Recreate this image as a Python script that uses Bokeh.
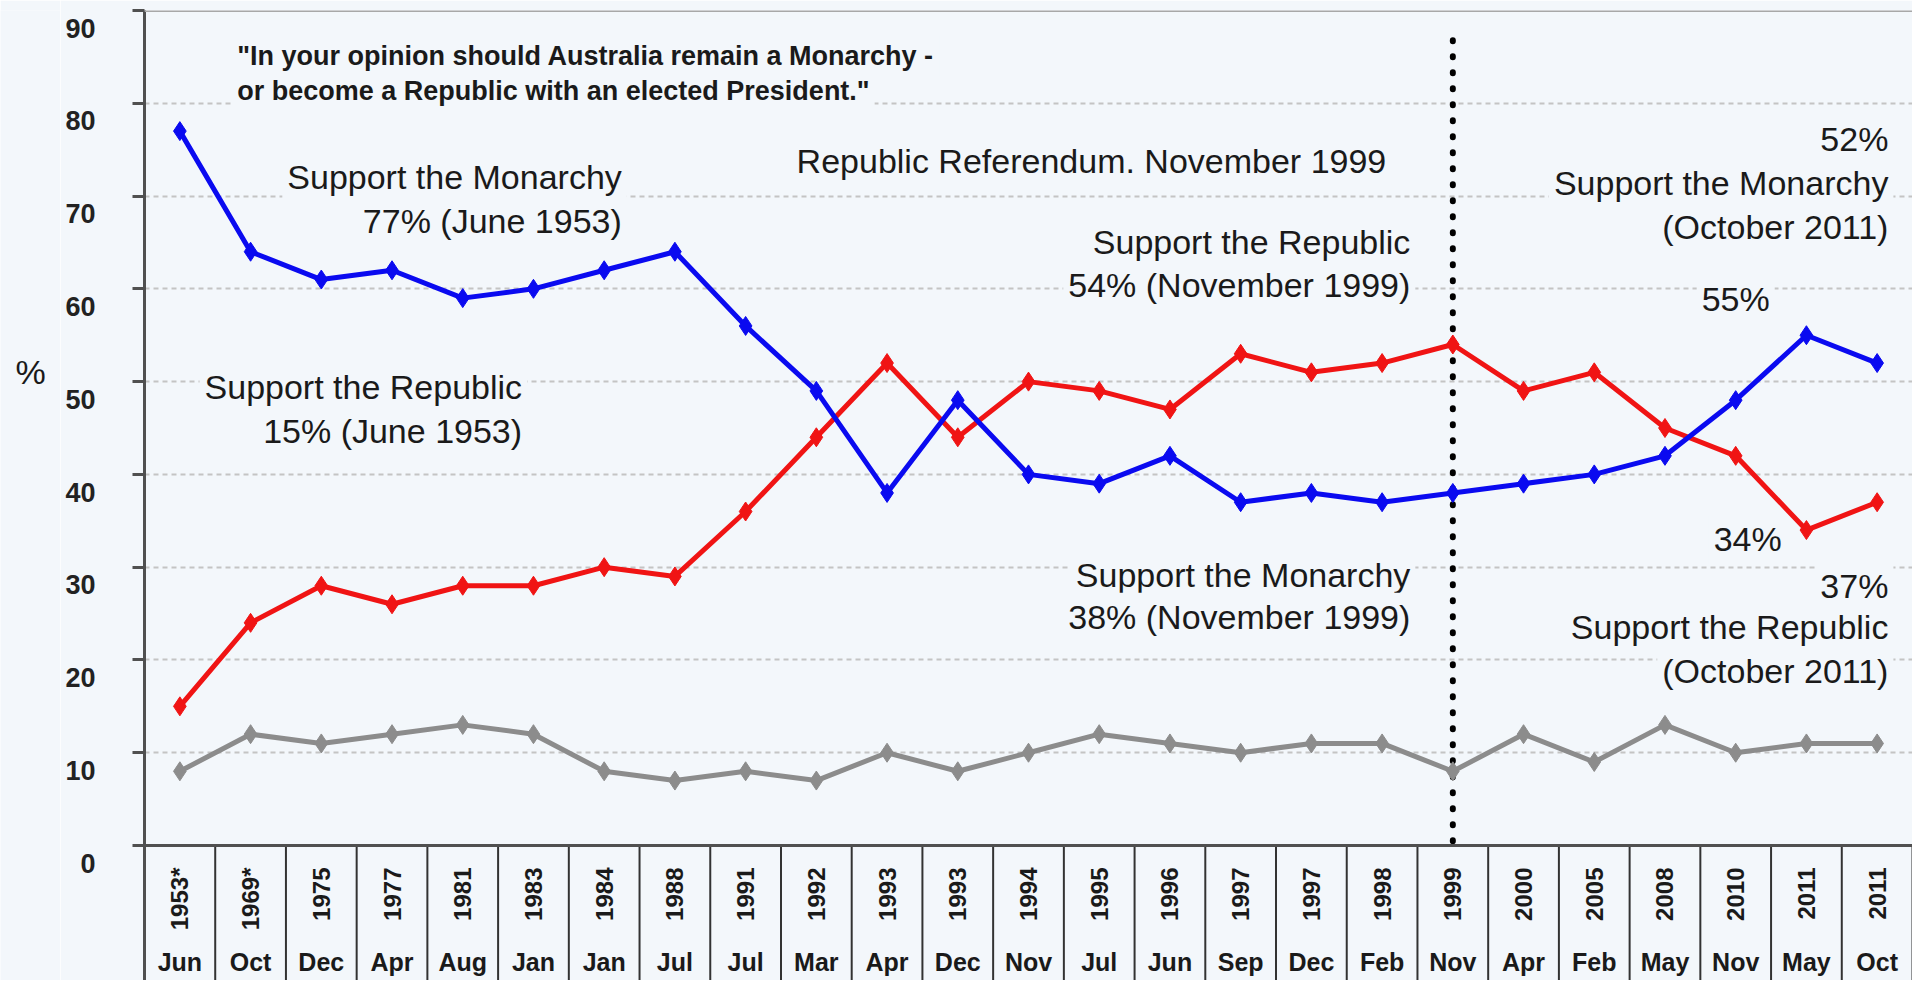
from bokeh.plotting import figure
from bokeh.layouts import row
from bokeh.models import Range1d, FixedTicker, Span, Label, ColumnDataSource, LinearAxis
from bokeh.core.properties import value
from bokeh.embed import file_html
from bokeh.resources import INLINE

# ---------------- data ----------------
months = ["Jun", "Oct", "Dec", "Apr", "Aug", "Jan", "Jan", "Jul", "Jul", "Mar", "Apr", "Dec", "Nov",
          "Jul", "Jun", "Sep", "Dec", "Feb", "Nov", "Apr", "Feb", "May", "Nov", "May", "Oct"]
years = ["1953*", "1969*", "1975", "1977", "1981", "1983", "1984", "1988", "1991", "1992", "1993", "1993",
         "1994", "1995", "1996", "1997", "1997", "1998", "1999", "2000", "2005", "2008", "2010", "2011", "2011"]
monarchy = [77, 64, 61, 62, 59, 60, 62, 64, 56, 49, 38, 48, 40, 39, 42, 37, 38, 37, 38, 39, 40, 42, 48, 55, 52]
republic = [15, 24, 28, 26, 28, 28, 30, 29, 36, 44, 52, 44, 50, 49, 47, 53, 51, 52, 54, 49, 51, 45, 42, 34, 37]
undecided = [8, 12, 11, 12, 13, 12, 8, 7, 8, 7, 10, 8, 10, 12, 11, 10, 11, 11, 8, 12, 9, 13, 10, 11, 11]
y_ticks = [0, 10, 20, 30, 40, 50, 60, 70, 80, 90]
referendum_index = years.index("1999")

BG = "#F3F7FB"
BLUE = "#0A0AF0"
RED = "#F01414"
GREY = "#8C8C8C"
AXIS = "#505050"
TXT = "#1A1A1A"

n = len(months)
xs = list(range(n))
Y0, Y1 = -14.55, 90
LEFT_W = 60
TOTAL_W, H = 1912, 980

y_range = Range1d(Y0, Y1)

p = figure(width=TOTAL_W - LEFT_W, height=H, output_backend="svg", toolbar_location=None,
           x_range=Range1d(-0.5, n - 0.5), y_range=y_range,
           x_axis_location=None, y_axis_location=None,
           min_border_left=144 - LEFT_W, min_border_right=0, min_border_top=10, min_border_bottom=0)
p.background_fill_color = BG
p.border_fill_color = BG
p.outline_line_color = None

# y axis: labels sit slightly below their tick (as in the original), so the axis uses a
# shifted range; the tick marks are drawn as minor ticks at the true positions.
SHIFT = 1.9
p.extra_y_ranges = {"labels": Range1d(Y0 + SHIFT, Y1 + SHIFT)}
yax = LinearAxis(y_range_name="labels",
                 ticker=FixedTicker(ticks=y_ticks, minor_ticks=[t + SHIFT for t in y_ticks]))
yax.axis_line_color = AXIS
yax.axis_line_width = 3
yax.major_tick_line_color = None
yax.major_tick_out = 0
yax.major_tick_in = 0
yax.minor_tick_line_color = AXIS
yax.minor_tick_line_width = 3
yax.minor_tick_out = 12
yax.minor_tick_in = 0
yax.major_label_text_font = "Liberation Sans"
yax.major_label_text_font_style = "bold"
yax.major_label_text_font_size = "27px"
yax.major_label_text_color = "#222222"
yax.major_label_standoff = 37
p.add_layout(yax, "left")

# grid
p.xgrid.visible = False
p.ygrid.ticker = FixedTicker(ticks=y_ticks[1:-1])
p.ygrid.grid_line_color = "#C4C4C4"
p.ygrid.grid_line_dash = "5 4"
p.ygrid.grid_line_width = 2

p.add_layout(Span(location=y_ticks[-1], dimension="width", line_color="#A8A8A8", line_width=3))

# table separators below the axis
bounds = [i + 0.5 for i in range(n)]
p.segment(x0=bounds, y0=[0] * n, x1=bounds, y1=[Y0] * n, line_color="#333333", line_width=2)
p.add_layout(Span(location=0, dimension="width", line_color=AXIS, line_width=3))

# year / month labels
p.text(x=xs, y=[0] * n, text=years, angle=1.5708, text_align="right", text_baseline="middle",
       y_offset=22, text_font=value("Liberation Sans"), text_font_style="bold",
       text_font_size="24px", text_color=TXT)
p.text(x=xs, y=[0] * n, text=months, text_align="center", text_baseline="middle",
       y_offset=116, text_font=value("Liberation Sans"), text_font_style="bold",
       text_font_size="25px", text_color=TXT)

# referendum line
p.segment(x0=[referendum_index], y0=[86.8], x1=[referendum_index], y1=[0],
          line_color="black", line_width=6, line_dash="1 15", line_cap="round")

# series
for vals, col in [(undecided, GREY), (republic, RED), (monarchy, BLUE)]:
    src = ColumnDataSource(dict(x=xs, y=vals))
    p.line("x", "y", source=src, line_color=col, line_width=5)
    p.scatter("x", "y", source=src, marker="diamond", size=19, color=col)


def lab(x, y, text, align="left", size="34px", style="normal"):
    p.add_layout(Label(x=x, y=y, text=text, text_align=align, text_baseline="middle",
                       text_font="Liberation Sans", text_font_size=size, text_font_style=style,
                       text_color=TXT, background_fill_color=BG, padding=5))


lab(0.74, 85.1, '"In your opinion should Australia remain a Monarchy -', size="27px", style="bold")
lab(0.74, 81.3, 'or become a Republic with an elected President."', size="27px", style="bold")
lab(6.32, 72.1, "Support the Monarchy", align="right")
lab(6.32, 67.3, "77% (June 1953)", align="right")
lab(4.91, 49.4, "Support the Republic", align="right")
lab(4.91, 44.7, "15% (June 1953)", align="right")
lab(12.89, 73.8, "Republic Referendum. November 1999", align="center")
lab(17.47, 65.1, "Support the Republic", align="right")
lab(17.47, 60.4, "54% (November 1999)", align="right")
lab(17.47, 29.2, "Support the Monarchy", align="right")
lab(17.47, 24.65, "38% (November 1999)", align="right")
lab(24.23, 76.1, "52%", align="right")
lab(24.23, 71.4, "Support the Monarchy", align="right")
lab(24.23, 66.7, "(October 2011)", align="right")
lab(22.0, 58.9, "55%", align="center")
lab(22.17, 33.0, "34%", align="center")
lab(24.23, 28.0, "37%", align="right")
lab(24.23, 23.5, "Support the Republic", align="right")
lab(24.23, 18.8, "(October 2011)", align="right")

# narrow strip on the left holding the "%" unit label
left = figure(width=LEFT_W, height=H, output_backend="svg", toolbar_location=None,
              x_range=Range1d(0, LEFT_W), y_range=y_range,
              x_axis_location=None, y_axis_location=None,
              min_border_left=0, min_border_right=0, min_border_top=10, min_border_bottom=0)
left.background_fill_color = BG
left.border_fill_color = BG
left.outline_line_color = None
left.grid.visible = False
left.text(x=[30], y=[51.0], text=["%"], text_align="center", text_baseline="middle",
          text_font=value("Liberation Sans"), text_font_size="34px", text_color=TXT)

open("out.html", "w").write(file_html(row(left, p), INLINE))
